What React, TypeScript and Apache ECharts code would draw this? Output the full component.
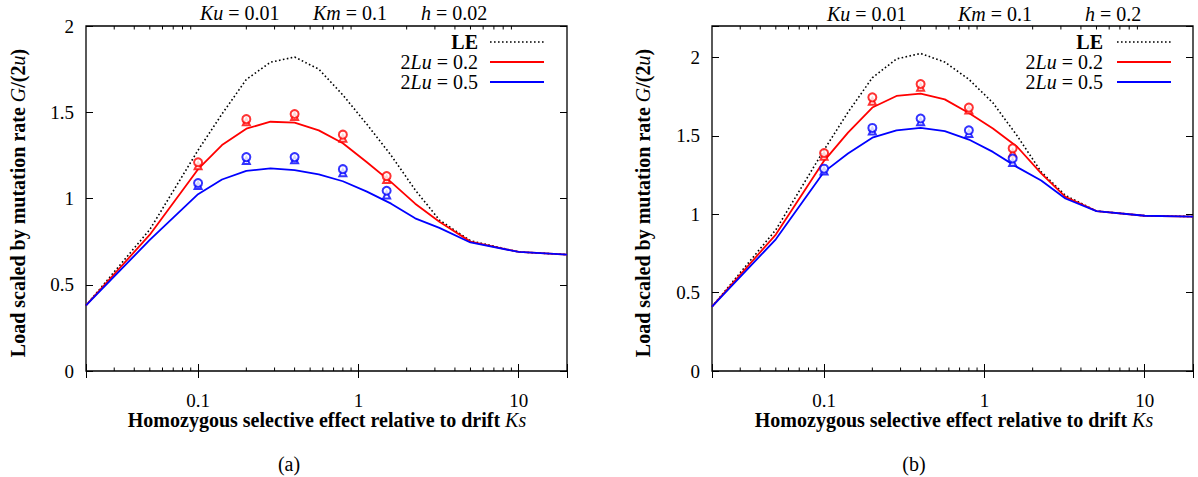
import React, { useEffect, useRef } from 'react';
import * as echarts from 'echarts';

// ---- data ----
const ksGrid = [0.02, 0.05, 0.1, 0.141, 0.2, 0.283, 0.4, 0.566, 0.8, 1.13, 1.6, 2.26, 3.2, 5, 10, 20];
const markerKs = [0.1, 0.2, 0.4, 0.8, 1.5];

// panel (a): h = 0.02
const leA = [0.38, 0.82, 1.28, 1.49, 1.69, 1.79, 1.82, 1.75, 1.6, 1.43, 1.25, 1.05, 0.875, 0.755, 0.69, 0.675];
const redA = [0.38, 0.79, 1.17, 1.31, 1.405, 1.445, 1.44, 1.395, 1.32, 1.21, 1.095, 0.97, 0.865, 0.75, 0.69, 0.675];
const blueA = [0.38, 0.76, 1.025, 1.11, 1.16, 1.175, 1.165, 1.14, 1.1, 1.04, 0.97, 0.885, 0.83, 0.745, 0.69, 0.675];
const redCircA = [1.21, 1.46, 1.49, 1.37, 1.13];
const redTriA = [1.19, 1.445, 1.475, 1.35, 1.11];
const blueCircA = [1.09, 1.24, 1.24, 1.17, 1.045];
const blueTriA = [1.075, 1.22, 1.225, 1.15, 1.02];

// panel (b): h = 0.2
const leB = [0.41, 0.9, 1.41, 1.65, 1.87, 1.99, 2.025, 1.97, 1.86, 1.71, 1.5, 1.27, 1.12, 1.02, 0.99, 0.985];
const redB = [0.41, 0.87, 1.34, 1.52, 1.68, 1.754, 1.769, 1.732, 1.645, 1.546, 1.43, 1.26, 1.11, 1.02, 0.99, 0.985];
const blueB = [0.41, 0.84, 1.27, 1.387, 1.488, 1.535, 1.55, 1.529, 1.476, 1.397, 1.3, 1.215, 1.1, 1.02, 0.99, 0.985];
const redCircB = [1.39, 1.745, 1.83, 1.68, 1.42];
const redTriB = [1.37, 1.72, 1.81, 1.665, 1.39];
const blueCircB = [1.29, 1.55, 1.61, 1.535, 1.355];
const blueTriB = [1.275, 1.53, 1.59, 1.515, 1.33];

const xMajorLabels = [0.1, 1, 10];
const xMinorTicks = [0.03, 0.04, 0.05, 0.06, 0.07, 0.08, 0.09, 0.2, 0.3, 0.4, 0.5, 0.6, 0.7, 0.8, 0.9, 2, 3, 4, 5, 6, 7, 8, 9];
const yMaxA = 2;
const yMaxB = 2.2;

const titleA = ['{i|Ku} = 0.01', '{i|Km} = 0.1', '{i|h} = 0.02'];
const titleB = ['{i|Ku} = 0.01', '{i|Km} = 0.1', '{i|h} = 0.2'];
const legendLabels = ['{b|LE}', '2{i|Lu} = 0.2', '2{i|Lu} = 0.5'];

const RED = '#ff0000';
const BLUE = '#0000ff';
const FONT = "'Liberation Serif', serif";
const FS = 20;

const pairs = (xs: number[], ys: number[]) => xs.map((x, i) => [x, ys[i]]);

const rich = {
  i: { fontStyle: 'italic', fontFamily: FONT, fontSize: FS, fill: '#000', color: '#000' },
  b: { fontWeight: 'bold', fontFamily: FONT, fontSize: FS, fill: '#000', color: '#000' },
};
const richBoldName = {
  i: { fontStyle: 'italic', fontWeight: 'normal', fontFamily: FONT, fontSize: FS, color: '#000', fill: '#000' },
};

function makeXAxes(grid: number) {
  const base = {
    type: 'log',
    logBase: 10,
    gridIndex: grid,
    min: 0.02,
    max: 20,
    axisLine: { show: false },
    splitLine: { show: false },
    axisTick: { show: true, inside: true, length: 7, lineStyle: { color: '#000', width: 1 } },
  };
  return [
    {
      ...base,
      position: 'bottom',
      axisLabel: {
        color: '#000',
        fontFamily: FONT,
        fontSize: 19,
        margin: 20,
        formatter: (v: number) => (xMajorLabels.some((t) => Math.abs(v - t) < 1e-9 * Math.max(1, t)) ? String(v) : ''),
      },
    },
    { ...base, position: 'top', axisLabel: { show: false } },
  ];
}

function makeYAxes(grid: number, max: number) {
  const base = {
    type: 'value',
    gridIndex: grid,
    min: 0,
    max,
    interval: 0.5,
    axisLine: { show: false },
    splitLine: { show: false },
    axisTick: { show: true, inside: true, length: 7, lineStyle: { color: '#000', width: 1 } },
  };
  return [
    {
      ...base,
      position: 'left',
      axisLabel: {
        color: '#000',
        fontFamily: FONT,
        fontSize: 19,
        margin: 12,
        formatter: (v: number) => (Math.abs(v * 2 - Math.round(v * 2)) < 1e-9 ? String(v) : ''),
      },
    },
    { ...base, position: 'right', axisLabel: { show: false } },
  ];
}

function panelSeries(xi: number, yi: number, yMax: number, le: number[], red: number[], blue: number[],
  rc: number[], rt: number[], bc: number[], bt: number[]) {
  const lineBase = { type: 'line', xAxisIndex: xi, yAxisIndex: yi, symbol: 'none', showSymbol: false, silent: true };
  const sc = (data: number[], color: string, sym: string, size: number, z: number) => ({
    type: 'scatter', xAxisIndex: xi, yAxisIndex: yi, symbol: sym, symbolSize: size, z, silent: true,
    itemStyle: { color, borderColor: color, borderWidth: 1.5 },
    data: pairs(markerKs, data),
  });
  return [
    { ...lineBase, name: 'LE', data: pairs(ksGrid, le), lineStyle: { color: '#000', width: 1.6, type: [1.6, 2.4] }, z: 3 },
    { ...lineBase, name: '2Lu=0.2', data: pairs(ksGrid, red), lineStyle: { color: RED, width: 1.8 }, z: 3 },
    { ...lineBase, name: '2Lu=0.5', data: pairs(ksGrid, blue), lineStyle: { color: BLUE, width: 1.8 }, z: 3 },
    sc(rt, RED, 'emptyTriangle', 7, 4),
    sc(bt, BLUE, 'emptyTriangle', 7, 4),
    sc(rc, RED, 'emptyCircle', 8, 5),
    sc(bc, BLUE, 'emptyCircle', 8, 5),
    {
      type: 'custom', xAxisIndex: xi, yAxisIndex: yi, silent: true, z: 6,
      data: xMinorTicks.map((v) => [v, 0]),
      renderItem: (_p: any, api: any) => {
        const x = api.value(0);
        const b = api.coord([x, 0]);
        const t = api.coord([x, yMax]);
        const st = { stroke: '#000', lineWidth: 1 };
        return {
          type: 'group',
          children: [
            { type: 'line', shape: { x1: b[0], y1: b[1], x2: b[0], y2: b[1] - 3.5 }, style: st },
            { type: 'line', shape: { x1: t[0], y1: t[1], x2: t[0], y2: t[1] + 3.5 }, style: st },
          ],
        };
      },
    },
  ];
}

function textEl(text: string, x: number, y: number, opts: any = {}) {
  return {
    type: 'text', x, y, rotation: opts.rotation || 0, z: 10,
    style: {
      text, fill: '#000', fontFamily: FONT, fontSize: opts.fontSize || FS, fontWeight: opts.fontWeight || 'normal',
      align: opts.align || 'left', verticalAlign: 'middle', rich: opts.rich || rich,
    },
  };
}

function legendEls(textRight: number, lineX1: number, lineX2: number) {
  const rows = [42, 62, 82];
  const els: any[] = [];
  legendLabels.forEach((lab, i) => {
    els.push(textEl(lab, textRight, rows[i], { align: 'right' }));
  });
  els.push({ type: 'line', z: 10, shape: { x1: lineX1, y1: rows[0], x2: lineX2, y2: rows[0] }, style: { stroke: '#000', lineWidth: 1.6, lineDash: [1.6, 2.4] } });
  els.push({ type: 'line', z: 10, shape: { x1: lineX1, y1: rows[1], x2: lineX2, y2: rows[1] }, style: { stroke: RED, lineWidth: 1.8 } });
  els.push({ type: 'line', z: 10, shape: { x1: lineX1, y1: rows[2], x2: lineX2, y2: rows[2] }, style: { stroke: BLUE, lineWidth: 1.8 } });
  return els;
}

const xName = 'Homozygous selective effect relative to drift {i|Ks}';
const yName = 'Load scaled by mutation rate {i|G}/(2{i|u})';

export default function App() {
  const ref = useRef<HTMLDivElement>(null);
  useEffect(() => {
    const chart = echarts.init(ref.current!, null, { renderer: 'svg' });
    const option: any = {
      animation: false,
      backgroundColor: '#fff',
      textStyle: { fontFamily: FONT },
      grid: [
        { left: 86, top: 26, width: 481, height: 345, show: true, borderColor: '#000', borderWidth: 1.3, backgroundColor: 'transparent' },
        { left: 712, top: 26, width: 481, height: 345, show: true, borderColor: '#000', borderWidth: 1.3, backgroundColor: 'transparent' },
      ],
      xAxis: [...makeXAxes(0), ...makeXAxes(1)],
      yAxis: [...makeYAxes(0, yMaxA), ...makeYAxes(1, yMaxB)],
      series: [
        ...panelSeries(0, 0, yMaxA, leA, redA, blueA, redCircA, redTriA, blueCircA, blueTriA),
        ...panelSeries(2, 2, yMaxB, leB, redB, blueB, redCircB, redTriB, blueCircB, blueTriB),
      ],
      graphic: [
        textEl(titleA[0], 200, 13), textEl(titleA[1], 313, 13), textEl(titleA[2], 421, 13),
        textEl(titleB[0], 827, 14), textEl(titleB[1], 958, 14), textEl(titleB[2], 1085, 14),
        ...legendEls(478, 490, 544),
        ...legendEls(1103, 1117, 1171),
        textEl(xName, 327, 420, { align: 'center', fontWeight: 'bold', rich: richBoldName }),
        textEl(xName, 954, 420, { align: 'center', fontWeight: 'bold', rich: richBoldName }),
        textEl(yName, 18, 203, { align: 'center', fontWeight: 'bold', rich: richBoldName, rotation: Math.PI / 2 }),
        textEl(yName, 643, 203, { align: 'center', fontWeight: 'bold', rich: richBoldName, rotation: Math.PI / 2 }),
        textEl('(a)', 289, 464, { align: 'center' }),
        textEl('(b)', 914, 464, { align: 'center' }),
      ],
    };
    chart.setOption(option);
    return () => chart.dispose();
  }, []);
  return <div ref={ref} style={{ position: 'absolute', left: 0, top: 0, width: 1198, height: 477 }} />;
}
